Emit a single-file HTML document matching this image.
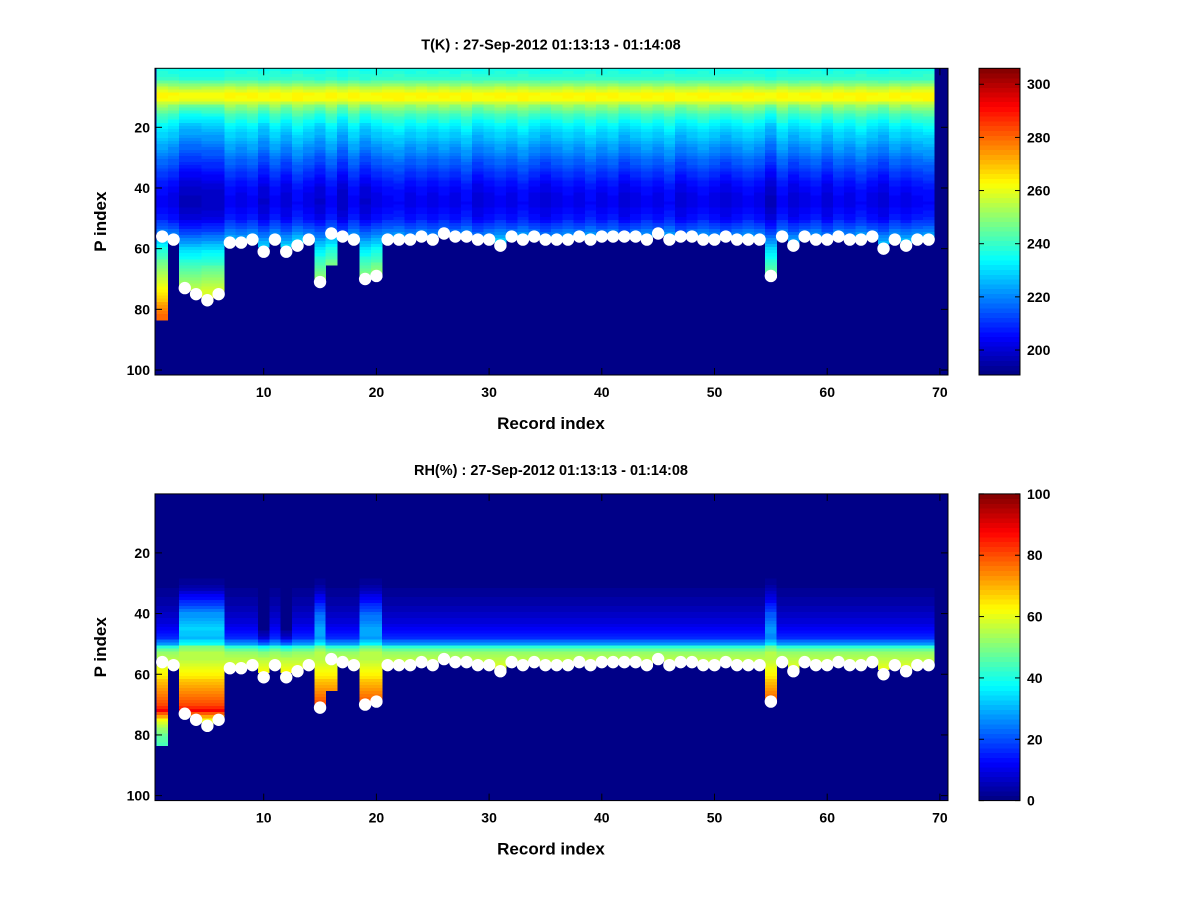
<!DOCTYPE html>
<html><head><meta charset="utf-8"><style>
html,body{margin:0;padding:0;background:#fff;}
svg text{font-family:"Liberation Sans",sans-serif;font-weight:bold;fill:#000;}
</style></head><body>
<svg id="fig" width="1200" height="900" viewBox="0 0 1200 900" xmlns="http://www.w3.org/2000/svg"></svg>
<script>
// ---- data ----
const records = Array.from({length:70},(_,i)=>i+1);
const surfaceLevel = [56,57,73,75,77,75,58,58,57,61,57,61,59,57,71,55,56,57,70,69,
57,57,57,56,57,55,56,56,57,57,59,56,57,56,57,57,57,56,57,56,
56,56,56,57,55,57,56,56,57,57,56,57,57,57,69,56,59,56,57,57,
56,57,57,56,60,57,59,57,57];
const dataBottom = [83,57,73,75,77,75,58,58,57,59,57,59,59,57,71,65,56,57,70,69,
57,57,57,56,57,55,56,56,57,57,59,56,57,56,57,57,57,56,57,56,
56,56,56,57,55,57,56,56,57,57,56,57,57,57,69,56,58,56,57,57,
56,57,57,56,58,57,58,57,57,0];
const tLevels = [1,4,7,9,11,13,16,20,25,30,35,40,45,50,54,57,60,65,70,75,80,83];
const tBase   = [236,240,255,263,262,250,240,231,224,217,210,204,202,206,216,225,234,245,255,263,275,278];
const tOffset = [2,0,-5,-5,-4,-4,2,0,2,-3,2,-2,3,0,-3,2,-4,2,-3,0,
2,3,0,2,0,2,0,3,-2,0,2,0,3,0,-2,0,2,0,3,0,
2,-2,0,2,0,3,-2,0,2,0,-2,0,2,0,-5,2,-2,0,2,-2,
2,0,3,0,-2,2,0,2,3,0];
const rhLevels = [1,30,38,44,48,50,51,53,56,60,65,70,72,75,80,83];
const rhBase   = [0,1,5,10,16,28,42,52,57,64,72,80,88,62,47,45];
const bumpLevels = [1,28,32,36,40,45,50,55,100];
const bumpBase   = [0,0,4,12,20,22,10,0,0];
const rhMoist = [0,0,1,1,1,1,0,0,0,-0.5,0,-0.5,0,0,0.8,0,0,0,0.8,0.8,
0,0,0,0,0,0,0,0,0,0,0,0,0,0,0,0,0,0,0,0,
0,0,0,0,0,0,0,0,0,0,0,0,0,0,0.7,0,0,0,0,0,
0,0,0,0,0,0,0,0,0,0];
const tTicks = [200,220,240,260,280,300];
const rhTicks = [0,20,40,60,80,100];
const xTicks = [10,20,30,40,50,60,70];
const yTicks = [20,40,60,80,100];

// ---- helpers ----
const NS="http://www.w3.org/2000/svg";
const svg=document.getElementById('fig');
function mk(tag,attrs,parent){const e=document.createElementNS(NS,tag);for(const k in attrs)e.setAttribute(k,attrs[k]);(parent||svg).appendChild(e);return e;}
function interp(xs,ys,x){if(x<=xs[0])return ys[0];for(let i=1;i<xs.length;i++){if(x<=xs[i]){const t=(x-xs[i-1])/(xs[i]-xs[i-1]);return ys[i-1]+t*(ys[i]-ys[i-1]);}}return ys[ys.length-1];}
function cl(v){return Math.max(0,Math.min(1,v));}
function jet(t){t=cl(t);const q=Math.min(63,Math.floor(t*64));const u=(q+0.5)/64;
 const r=cl(1.5-Math.abs(4*u-3)),g=cl(1.5-Math.abs(4*u-2)),b=cl(1.5-Math.abs(4*u-1));
 return `rgb(${Math.round(r*255)},${Math.round(g*255)},${Math.round(b*255)})`;}
const xS=r=>263.7+(r-10)*11.27;
const AX_L=155, AX_R=948;

function panel(dy,name,title,valueFn,cmin,cmax,cticks){
 const yS=p=>127.3+(p-20)*3.034+dy;
 const top=68.3+dy, bot=375+dy;
 const g=mk('g',{});
 
 
 const bg=mk('rect',{x:AX_L,y:top,width:AX_R-AX_L,height:bot-top,fill:jet(0)},g);
 
 
 const hm=mk('g',{'shape-rendering':'crispEdges'},g);
 
 
 records.forEach((r,i)=>{
  const bottom=dataBottom[i];
  for(let p=1;p<=bottom;p++){
   const v=valueFn(i,p);
   const x0=Math.max(AX_L,xS(r-0.5)), x1=xS(r+0.5);
   const y0=Math.max(top,yS(p-0.5)), y1=yS(p+0.5);
   const c=mk('rect',{x:x0.toFixed(2),y:y0.toFixed(2),width:(x1-x0+0.3).toFixed(2),height:(y1-y0+0.3).toFixed(2),fill:jet((v-cmin)/(cmax-cmin))},hm);
   
   
  }
 });
 const dots=mk('g',{},g);
 
 
 surfaceLevel.forEach((s,i)=>{
  const d=mk('circle',{cx:xS(records[i]),cy:yS(s),r:6.2,fill:'#fff'},dots);
  
  
 });
 const fr=mk('rect',{x:AX_L,y:top,width:AX_R-AX_L,height:bot-top,fill:'none',stroke:'#000','stroke-width':1},g);
 
 
 xTicks.forEach(t=>{const x=xS(t);
  mk('line',{x1:x,x2:x,y1:bot,y2:bot-7,stroke:'#000'},g);mk('line',{x1:x,x2:x,y1:top,y2:top+7,stroke:'#000'},g);
  const tl=mk('text',{x:x,y:bot+22,'text-anchor':'middle','font-size':14},g);tl.textContent=t;
  
  });
 yTicks.forEach(t=>{const y=yS(t);
  mk('line',{x1:AX_L,x2:AX_L+7,y1:y,y2:y,stroke:'#000'},g);mk('line',{x1:AX_R,x2:AX_R-7,y1:y,y2:y,stroke:'#000'},g);
  const tl=mk('text',{x:AX_L-5,y:y+5,'text-anchor':'end','font-size':14},g);tl.textContent=t;
  
  });
 const tt=mk('text',{x:551,y:top-19,'text-anchor':'middle','font-size':14.5},g);tt.textContent=title;
 
 
 const xl=mk('text',{x:551,y:bot+54,'text-anchor':'middle','font-size':17},g);xl.textContent='Record index';
 
 
 const yl=mk('text',{x:0,y:0,'text-anchor':'middle','font-size':17,transform:`translate(106 ${(top+bot)/2}) rotate(-90)`},g);yl.textContent='P index';
 
 
 const cb=mk('g',{'shape-rendering':'crispEdges'},g);
 
 
 const CX=979,CW=41;
 for(let k=0;k<64;k++){const y1=bot-(bot-top)*k/64,y0=bot-(bot-top)*(k+1)/64;
  mk('rect',{x:CX,y:y0.toFixed(2),width:CW,height:(y1-y0+0.4).toFixed(2),fill:jet((k+0.5)/64)},cb);}
 mk('rect',{x:CX,y:top,width:CW,height:bot-top,fill:'none',stroke:'#000'},g);
 cticks.forEach(t=>{const y=bot-(t-cmin)/(cmax-cmin)*(bot-top);
  mk('line',{x1:CX,x2:CX+5,y1:y,y2:y,stroke:'#000'},g);mk('line',{x1:CX+CW,x2:CX+CW-5,y1:y,y2:y,stroke:'#000'},g);
  const tl=mk('text',{x:CX+CW+7,y:y+5,'font-size':14},g);tl.textContent=t;
  
  });
}
panel(0,'temperature','T(K) : 27-Sep-2012 01:13:13 - 01:14:08',
 (i,p)=>interp(tLevels,tBase,p)+(p>12?tOffset[i]:tOffset[i]*0.3),190.6,306,tTicks);
panel(425.6,'humidity','RH(%) : 27-Sep-2012 01:13:13 - 01:14:08',
 (i,p)=>Math.max(0,interp(rhLevels,rhBase,p)+rhMoist[i]*interp(bumpLevels,bumpBase,p)),0,100,rhTicks);
</script>
</body></html>
